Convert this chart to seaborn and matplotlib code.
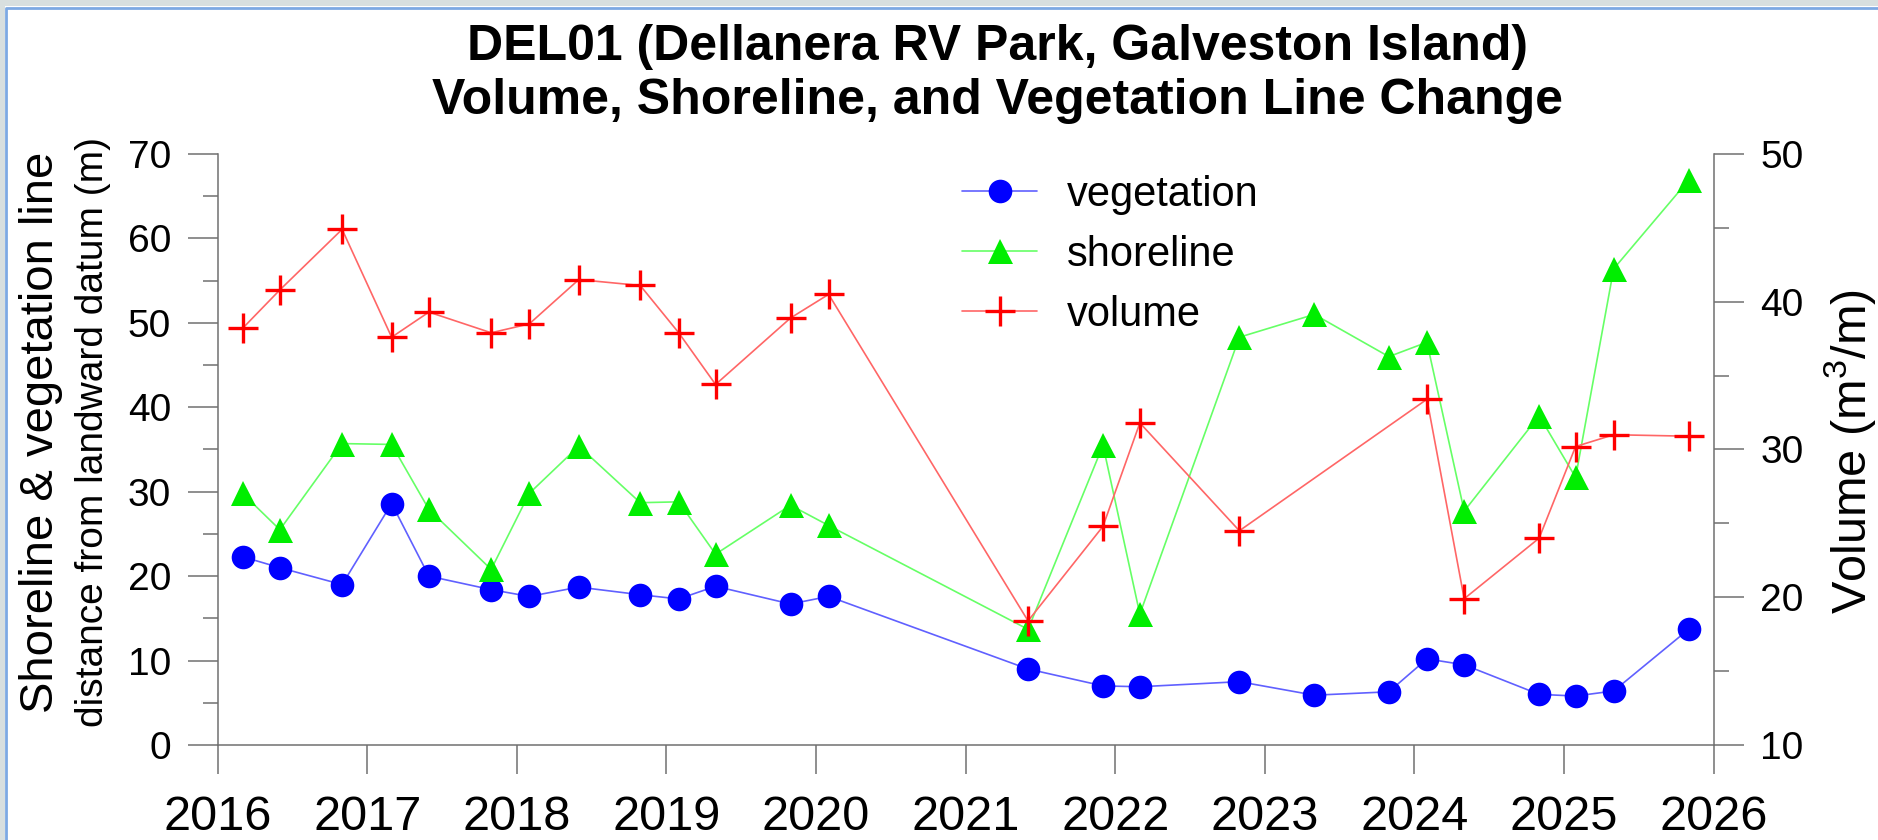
import matplotlib
matplotlib.use("Agg")
import matplotlib.pyplot as plt
import matplotlib.dates as mdates
from matplotlib.lines import Line2D
from matplotlib.patches import Rectangle
from matplotlib.ticker import MultipleLocator
import pandas as pd
import seaborn as sns

# survey dates
survey_dates = [
    "2016-03-02", "2016-06-01", "2016-10-31", "2017-03-01", "2017-05-31",
    "2017-10-30", "2018-01-31", "2018-06-01", "2018-10-29", "2019-01-31",
    "2019-05-01", "2019-10-31", "2020-02-01", "2021-06-02", "2021-12-02",
    "2022-03-02", "2022-10-31", "2023-05-02", "2023-10-31", "2024-02-01",
    "2024-05-02", "2024-11-01", "2025-01-29", "2025-05-02", "2025-11-01",
]
vegetation = [
    22.3, 21.0, 19.0, 28.6, 20.0, 18.4, 17.6, 18.7, 17.8, 17.3,
    18.8, 16.7, 17.6, 9.0, 7.0, 6.9, 7.5, 5.9, 6.3, 10.2,
    9.5, 6.0, 5.8, 6.4, 13.7,
]
shoreline = [
    29.8, 25.5, 35.7, 35.6, 27.9, 20.8, 29.8, 35.4, 28.7, 28.8,
    22.6, 28.4, 26.0, 13.7, 35.5, 15.5, 48.3, 51.0, 46.0, 47.7,
    27.7, 39.0, 31.7, 56.4, 66.9,
]

# volume has no survey in 2023
volume_dates = [
    "2016-03-02", "2016-06-01", "2016-10-31", "2017-03-01", "2017-05-31",
    "2017-10-30", "2018-01-31", "2018-06-01", "2018-10-29", "2019-01-31",
    "2019-05-01", "2019-10-31", "2020-02-01", "2021-06-02", "2021-12-02",
    "2022-03-02", "2022-10-31", "2024-02-01", "2024-05-02", "2024-11-01",
    "2025-01-29", "2025-05-02", "2025-11-01",
]
volume = [
    38.2, 40.8, 44.9, 37.6, 39.3, 37.9, 38.5, 41.5, 41.1, 37.9,
    34.4, 38.9, 40.5, 18.4, 24.8, 31.8, 24.5, 33.4, 19.9, 24.0,
    30.2, 31.0, 30.9,
]

title_1 = "DEL01 (Dellanera RV Park, Galveston Island)"
title_2 = "Volume, Shoreline, and Vegetation Line Change"

W, H = 1878, 840

sns.set_theme(style="white")
plt.rcParams["font.family"] = ["Liberation Sans", "DejaVu Sans"]
plt.rcParams["text.color"] = "black"
plt.rcParams["axes.labelcolor"] = "black"
plt.rcParams["mathtext.fontset"] = "custom"
plt.rcParams["mathtext.rm"] = "Liberation Sans"
plt.rcParams["mathtext.default"] = "regular"

shore_df = pd.DataFrame({"date": pd.to_datetime(survey_dates),
                         "vegetation": vegetation, "shoreline": shoreline})
vol_df = pd.DataFrame({"date": pd.to_datetime(volume_dates), "volume": volume})

fig = plt.figure(figsize=(W / 100, H / 100), dpi=100)
fig.patch.set_facecolor("white")
ax = fig.add_axes([217.6 / W, 1 - 745 / H, 1496 / W, 591 / H])
ax2 = ax.twinx()

sns.lineplot(data=shore_df, x="date", y="vegetation", ax=ax, label="vegetation",
             color="#6060ff", lw=1.2, marker="o", markersize=17,
             markerfacecolor="#0000ff", markeredgecolor="#0000ff", markeredgewidth=0)
sns.lineplot(data=shore_df, x="date", y="shoreline", ax=ax, label="shoreline",
             color="#66ff66", lw=1.2, marker="^", markersize=18,
             markerfacecolor="#00ee00", markeredgecolor="#00ee00", markeredgewidth=0)
sns.lineplot(data=vol_df, x="date", y="volume", ax=ax2, label="volume",
             color="#ff6666", lw=1.2, marker="+", markersize=22,
             markeredgecolor="#ff0000", markeredgewidth=2.4)

h1, l1 = ax.get_legend_handles_labels()
h2, l2 = ax2.get_legend_handles_labels()
ax.get_legend().remove()
ax2.get_legend().remove()

spine_c = "#707070"
ax.set_xlim(pd.Timestamp("2016-01-01"), pd.Timestamp("2026-01-01"))
ax.set_ylim(0, 70)
ax2.set_ylim(10, 50)
for a in (ax, ax2):
    a.set_xlabel("")
    a.set_ylabel("")
    a.grid(False)
    a.patch.set_alpha(0)
    for s in a.spines.values():
        s.set_visible(False)
        s.set_color(spine_c)
        s.set_linewidth(1.1)
ax.spines["left"].set_visible(True)
ax.spines["bottom"].set_visible(True)
ax2.spines["right"].set_visible(True)

ax.xaxis.set_major_locator(mdates.YearLocator())
ax.xaxis.set_major_formatter(mdates.DateFormatter("%Y"))
ax.yaxis.set_major_locator(MultipleLocator(10))
ax.yaxis.set_minor_locator(MultipleLocator(5))
ax2.yaxis.set_major_locator(MultipleLocator(10))
ax2.yaxis.set_minor_locator(MultipleLocator(5))

ax.tick_params(axis="x", which="major", direction="out", length=21, width=1.1,
               color=spine_c, pad=15, labelsize=35, labelcolor="black", bottom=True)
for a in (ax, ax2):
    a.tick_params(axis="y", which="major", direction="out", length=21.6, width=1.1,
                  color=spine_c, pad=12, labelsize=28, labelcolor="black")
    a.tick_params(axis="y", which="minor", direction="out", length=10.8, width=1.1,
                  color=spine_c)
ax.tick_params(axis="y", which="both", left=True, right=False)
ax2.tick_params(axis="y", which="both", left=False, right=True)

leg = ax2.legend(h1 + h2, l1 + l2, loc="upper left",
                 bbox_to_anchor=(962 / W, 1 - 175 / H), bbox_transform=fig.transFigure,
                 frameon=False, fontsize=30, handlelength=1.8, handletextpad=0.71,
                 labelspacing=0.48, borderpad=0, borderaxespad=0)
for t in leg.get_texts():
    t.set_color("black")

# titles and axis labels
fig.text(997 / W, 1 - 60 / H, title_1, ha="center", va="baseline",
         fontsize=36, fontweight="bold", color="black")
fig.text(997 / W, 1 - 114 / H, title_2, ha="center", va="baseline",
         fontsize=36, fontweight="bold", color="black")
fig.text(41 / W, 1 - 432 / H, "Shoreline & vegetation line", rotation=90,
         ha="center", va="center", fontsize=34, color="black")
fig.text(92.6 / W, 1 - 432 / H, "distance from landward datum (m)", rotation=90,
         ha="center", va="center", fontsize=28, color="black")
fig.text(1850 / W, 1 - 452 / H, r"Volume (m$^{3}$/m)", rotation=90,
         ha="center", va="center", fontsize=35, color="black")

# window frame at top/left edge
fig.add_artist(Rectangle((0, 1 - 6 / H), 1, 6 / H, transform=fig.transFigure,
                         facecolor="#d8dfdf", edgecolor="none"))
fig.add_artist(Rectangle((0, 0), 4.5 / W, 1, transform=fig.transFigure,
                         facecolor="#d8dfdf", edgecolor="none"))
fig.add_artist(Line2D([6 / W, 6 / W, 1], [0, 1 - 7.5 / H, 1 - 7.5 / H],
                      transform=fig.transFigure, color="#7da9e3", lw=2))

fig.savefig("out.png", dpi=100)
